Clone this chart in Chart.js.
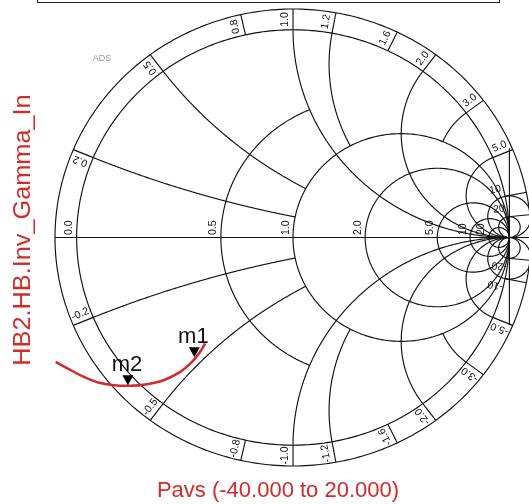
<!DOCTYPE html>
<html>
<head>
<meta charset="utf-8">
<script src="https://cdn.jsdelivr.net/npm/chart.js@4.4.0/dist/chart.umd.min.js"></script>
<style>
  html, body { margin: 0; padding: 0; background: #ffffff; }
  #wrap { position: relative; width: 529px; height: 504px; }
</style>
</head>
<body>
<div id="wrap"><canvas id="c" width="529" height="504"></canvas></div>
<script>
// Input reflection coefficient over the power sweep (real / imaginary parts)
const gammaRe = [-1.097, -1.043, -0.966, -0.900, -0.828, -0.751, -0.674, -0.598, -0.521, -0.467, -0.429, -0.406];
const gammaIm = [-0.599, -0.630, -0.671, -0.698, -0.711, -0.714, -0.706, -0.687, -0.647, -0.599, -0.550, -0.510];

// Markers placed on the trace
const markerNames = ['m1', 'm2'];
const markerRe = [-0.456, -0.763];
const markerIm = [-0.581, -0.716];

// Smith grid: constant-resistance circles and the largest |x| each one spans
const rCircles = [0.5, 1, 2, 5, 10, 20];
const rSpan    = [1, Infinity, Infinity, Infinity, Infinity, Infinity];
// Constant-reactance arcs (drawn for +x and -x) and the largest r each one spans
const xArcs = [0.2, 0.5, 1, 1.2, 2, 3, 5, 10, 20];
const xSpan = [1, 1, Infinity, 1, Infinity, 1, Infinity, Infinity, Infinity];
// Reactance circles near the open-circuit point that are drawn all the way round
const xFull = [10, 20];

// Reactance values marked on the outer ring
const ringValues = [0.2, 0.5, 0.8, 1.0, 1.2, 1.6, 2.0, 3.0, 5.0, 10, 20];
const ringText   = ['0.2', '0.5', '0.8', '1.0', '1.2', '1.6', '2.0', '3.0', '5.0', '10', '20'];
// Resistance values written along the real axis
const axisValues = [0, 0.5, 1, 2, 5, 10, 20];
const axisText   = ['0.0', '0.5', '1.0', '2.0', '5.0', '10', '20'];

const xTitle = 'Pavs (-40.000 to 20.000)';
const yTitle = 'HB2.HB.Inv_Gamma_In';

const RED = '#d42a2a';
const INK = '#121212';
const RING = 1.1;

// normalized impedance r + jx  ->  reflection coefficient
function gam(r, x) {
  const d = (r + 1) * (r + 1) + x * x;
  return [(r * r - 1 + x * x) / d, 2 * x / d];
}

function strokePath(ctx, sx, sy, pts) {
  ctx.beginPath();
  pts.forEach((p, i) => {
    const px = sx.getPixelForValue(p[0]);
    const py = sy.getPixelForValue(p[1]);
    if (i === 0) ctx.moveTo(px, py); else ctx.lineTo(px, py);
  });
  ctx.stroke();
}

function arcPoints(fn, t0, t1, n) {
  const pts = [];
  for (let i = 0; i <= n; i++) pts.push(fn(t0 + (t1 - t0) * i / n));
  return pts;
}

const smithGrid = {
  id: 'smithGrid',
  beforeDatasetsDraw(chart) {
    const ctx = chart.ctx;
    const sx = chart.scales.x, sy = chart.scales.y;
    const lim = Math.PI / 2 - 1e-5;
    ctx.save();
    ctx.strokeStyle = INK;
    ctx.lineWidth = 1.15;

    // unit circle and outer label ring
    [1, RING].forEach(rad => {
      strokePath(ctx, sx, sy, arcPoints(a => [rad * Math.cos(a), rad * Math.sin(a)], 0, 2 * Math.PI, 360));
    });

    // real axis
    strokePath(ctx, sx, sy, [[-RING, 0], [RING, 0]]);

    // constant-resistance circles
    rCircles.forEach((r, i) => {
      const T = rSpan[i] === Infinity ? lim : Math.atan(rSpan[i]);
      strokePath(ctx, sx, sy, arcPoints(t => gam(r, Math.tan(t)), -T, T, 400));
    });

    // constant-reactance arcs
    xArcs.forEach((x, i) => {
      const T = xSpan[i] === Infinity ? lim : Math.atan(xSpan[i]);
      [x, -x].forEach(v => {
        strokePath(ctx, sx, sy, arcPoints(t => gam(Math.tan(t), v), 0, T, 300));
      });
    });

    // small reactance circles closed outside the unit circle
    xFull.forEach(x => {
      [x, -x].forEach(v => {
        strokePath(ctx, sx, sy, arcPoints(t => gam(Math.tan(t), v), -lim, 0, 200));
      });
    });

    // line through the open-circuit point
    strokePath(ctx, sx, sy, [[1, 0.43], [1, -0.42]]);

    // ring ticks
    ringValues.forEach(v => {
      [v, -v].forEach(x => {
        const g = gam(0, x);
        const th = Math.atan2(g[1], g[0]);
        strokePath(ctx, sx, sy, [[Math.cos(th), Math.sin(th)], [RING * Math.cos(th), RING * Math.sin(th)]]);
      });
    });

    // ring labels
    ctx.fillStyle = INK;
    ctx.font = '10.5px "Liberation Sans", Arial, sans-serif';
    ctx.textAlign = 'center';
    ctx.textBaseline = 'middle';
    ringValues.forEach((v, i) => {
      [1, -1].forEach(sgn => {
        const g = gam(0, sgn * v);
        const th = Math.atan2(g[1], g[0]);
        const inner = v >= 10;
        const rad = inner ? 0.962 : 1.05;
        const dth = sgn * (inner ? 0.042 : 0.036);
        const a = th + dth;
        const px = sx.getPixelForValue(rad * Math.cos(a));
        const py = sy.getPixelForValue(rad * Math.sin(a));
        const rot = sgn > 0 ? -th : Math.PI - th;
        ctx.save();
        ctx.translate(px, py);
        ctx.rotate(rot);
        ctx.fillText(sgn > 0 ? ringText[i] : '-' + ringText[i], 0, 0);
        ctx.restore();
      });
    });

    // real-axis labels, written upward just left of each circle
    ctx.textAlign = 'left';
    ctx.textBaseline = 'alphabetic';
    const y0 = sy.getPixelForValue(0);
    axisValues.forEach((r, i) => {
      const px = sx.getPixelForValue((r - 1) / (r + 1));
      ctx.save();
      ctx.translate(px - 4.5, y0 - 2.5);
      ctx.rotate(-Math.PI / 2);
      ctx.fillText(axisText[i], 0, 0);
      ctx.restore();
    });
    ctx.restore();
  },
  afterDatasetsDraw(chart) {
    const ctx = chart.ctx;
    const sx = chart.scales.x, sy = chart.scales.y;
    ctx.save();
    // markers: downward triangles resting on the trace
    markerNames.forEach((name, i) => {
      const px = sx.getPixelForValue(markerRe[i]);
      const py = sy.getPixelForValue(markerIm[i]) - 1;
      ctx.fillStyle = '#000';
      ctx.beginPath();
      ctx.moveTo(px, py);
      ctx.lineTo(px - 5.5, py - 10);
      ctx.lineTo(px + 5.5, py - 10);
      ctx.closePath();
      ctx.fill();
      ctx.font = '22px "Liberation Sans", Arial, sans-serif';
      ctx.textAlign = 'center';
      ctx.textBaseline = 'alphabetic';
      ctx.fillStyle = '#111';
      ctx.fillText(name, px - 1, py - 14);
    });
    ctx.restore();
  },
  afterDraw(chart) {
    const ctx = chart.ctx;
    ctx.save();
    // caption box running off the top edge
    ctx.strokeStyle = '#222';
    ctx.lineWidth = 1;
    ctx.strokeRect(37.5, -10.5, 462, 13);

    // "ADS" tag
    ctx.fillStyle = '#9a9a9a';
    ctx.font = '9px "Liberation Sans", Arial, sans-serif';
    ctx.textAlign = 'center';
    ctx.textBaseline = 'middle';
    ctx.fillText('ADS', 102, 59);

    // axis titles
    ctx.fillStyle = RED;
    ctx.font = '22px "Liberation Sans", Arial, sans-serif';
    ctx.textAlign = 'center';
    ctx.textBaseline = 'alphabetic';
    ctx.fillText(xTitle, 278, 497);
    ctx.save();
    ctx.translate(30, 230);
    ctx.rotate(-Math.PI / 2);
    ctx.scale(1.1, 1);
    ctx.font = '23px "Liberation Sans", Arial, sans-serif';
    ctx.fillText(yTitle, 0, 0);
    ctx.restore();
    ctx.restore();
  }
};

new Chart(document.getElementById('c'), {
  type: 'scatter',
  data: {
    datasets: [{
      data: gammaRe.map((v, i) => ({ x: v, y: gammaIm[i] })),
      showLine: true,
      borderColor: RED,
      borderWidth: 2.5,
      pointRadius: 0,
      tension: 0.35,
      fill: false
    }]
  },
  options: {
    responsive: false,
    animation: false,
    devicePixelRatio: 1,
    events: [],
    layout: { padding: { left: 55, right: 0, top: 9, bottom: 38 } },
    scales: {
      x: { type: 'linear', min: -1.1, max: 1.0906, display: false },
      y: { type: 'linear', min: -1.1, max: 1.1, display: false }
    },
    plugins: { legend: { display: false }, tooltip: { enabled: false }, title: { display: false } }
  },
  plugins: [smithGrid]
});
</script>
</body>
</html>
